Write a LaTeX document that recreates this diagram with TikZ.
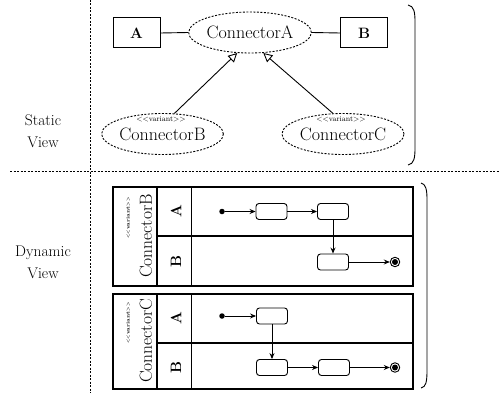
\documentclass[tikz,border=0pt]{standalone}
\usetikzlibrary{arrows.meta,shapes.geometric}
\begin{document}
\begin{tikzpicture}[x=1pt,y=-1pt,
  sep/.style={dash pattern=on 2pt off 1.5pt, line width=0.8pt},
  cls/.style={draw, line width=1pt, minimum width=47pt, minimum height=30pt, inner sep=0pt, font=\fontsize{15}{17}\selectfont\bfseries},
  conn/.style={draw, ellipse, dash pattern=on 2pt off 1.5pt, line width=0.9pt, minimum width=120pt, minimum height=41pt, inner sep=0pt, font=\fontsize{18}{20}\selectfont},
  vlabel/.style={font=\fontsize{7.5}{8}\selectfont, inner sep=0pt},
  gen/.style={-{Triangle[open, length=9pt, width=9pt]}, line width=0.9pt},
  brk/.style={line width=0.9pt},
  lanebox/.style={line width=1.8pt},
  thin/.style={line width=0.9pt},
  act/.style={draw, rounded corners=3pt, line width=0.9pt, minimum width=31pt, minimum height=16pt, inner sep=0pt},
  init/.style={circle, fill, inner sep=0pt, minimum size=5.5pt},
  final/.style={circle, draw, line width=0.9pt, inner sep=0pt, minimum size=9.5pt, path picture={\fill (path picture bounding box.center) circle (3pt);}},
  flow/.style={-{Stealth[length=6pt,width=5pt]}, line width=0.9pt},
  lane/.style={rotate=90, font=\fontsize{15}{17}\selectfont\bfseries, inner sep=0pt},
  vname/.style={rotate=90, font=\fontsize{17.5}{20}\selectfont, inner sep=0pt},
  vsmall/.style={rotate=90, font=\fontsize{5}{5}\selectfont\bfseries, inner sep=0pt},
  view/.style={align=center, font=\fontsize{15.5}{22}\selectfont}
]
\useasboundingbox (0,0) rectangle (500,393);

% separators
\draw[sep] (90,0) -- (90,393);
\draw[sep] (10,171) -- (500,171);

% view labels
\node[view] (sv) at (43,131) {Static\\View};
\node[view] (dv) at (43,262) {Dynamic\\View};

% static view
\node[cls] (A) at (136.5,33) {A};
\node[cls] (B) at (364,33) {B};
\node[conn] (ca) at (250,32.5) {ConnectorA};
\node[conn] (cb) at (162.5,134) {ConnectorB};
\node[conn] (cc) at (343,134) {ConnectorC};
\node[vlabel] (vb) at (161,119.5) {{<}{<}variant{>}{>}};
\node[vlabel] (vc) at (341,119.5) {{<}{<}variant{>}{>}};
\draw[thin] (A.east) -- (ca.west);
\draw[thin] (ca.east) -- (B.west);
\draw[gen] (cb.60) -- (ca.238);
\draw[gen] (cc.116) -- (ca.303);

% brackets
\draw[brk] (408,5) .. controls (414,6) and (415,12) .. (415,22) -- (415,148) .. controls (415,158) and (414,164) .. (408,165);
\draw[brk] (421,183) .. controls (426,184) and (427,190) .. (427,200) -- (427,370) .. controls (427,382) and (426,387) .. (421,388);

% dynamic view: ConnectorB
\draw[lanebox] (113,187) rectangle (413,286);
\draw[lanebox] (157,187) -- (157,286);
\draw[lanebox] (157,236) -- (413,236);
\draw[thin] (191,187) -- (191,286);
\node[vname] (nb) at (146,236) {ConnectorB};
\node[vsmall] (svb) at (128,218) {{<}{<}variant{>}{>}};
\node[lane] (la1) at (176,211.5) {A};
\node[lane] (lb1) at (176,261) {B};
\node[init] (i1) at (222,211.5) {};
\node[act] (b11) at (271.5,211.5) {};
\node[act] (b12) at (333,211.5) {};
\node[act] (b13) at (333,262) {};
\node[final] (f1) at (395,262) {};
\draw[flow] (i1) -- (b11);
\draw[flow] (b11) -- (b12);
\draw[flow] (b12) -- (b13);
\draw[flow] (b13) -- (f1);

% dynamic view: ConnectorC
\draw[lanebox] (113,294) rectangle (413,389);
\draw[lanebox] (157,294) -- (157,389);
\draw[lanebox] (157,343) -- (413,343);
\draw[thin] (191,294) -- (191,389);
\node[vname] (nc) at (146,341) {ConnectorC};
\node[vsmall] (svc) at (128,323) {{<}{<}variant{>}{>}};
\node[lane] (la2) at (176,318) {A};
\node[lane] (lb2) at (176,367) {B};
\node[init] (i2) at (222,316) {};
\node[act] (b21) at (272,316) {};
\node[act] (b22) at (272,367.5) {};
\node[act] (b23) at (334,367.5) {};
\node[final] (f2) at (395,367.5) {};
\draw[flow] (i2) -- (b21);
\draw[flow] (b21) -- (b22);
\draw[flow] (b22) -- (b23);
\draw[flow] (b23) -- (f2);
\end{tikzpicture}
\end{document}
